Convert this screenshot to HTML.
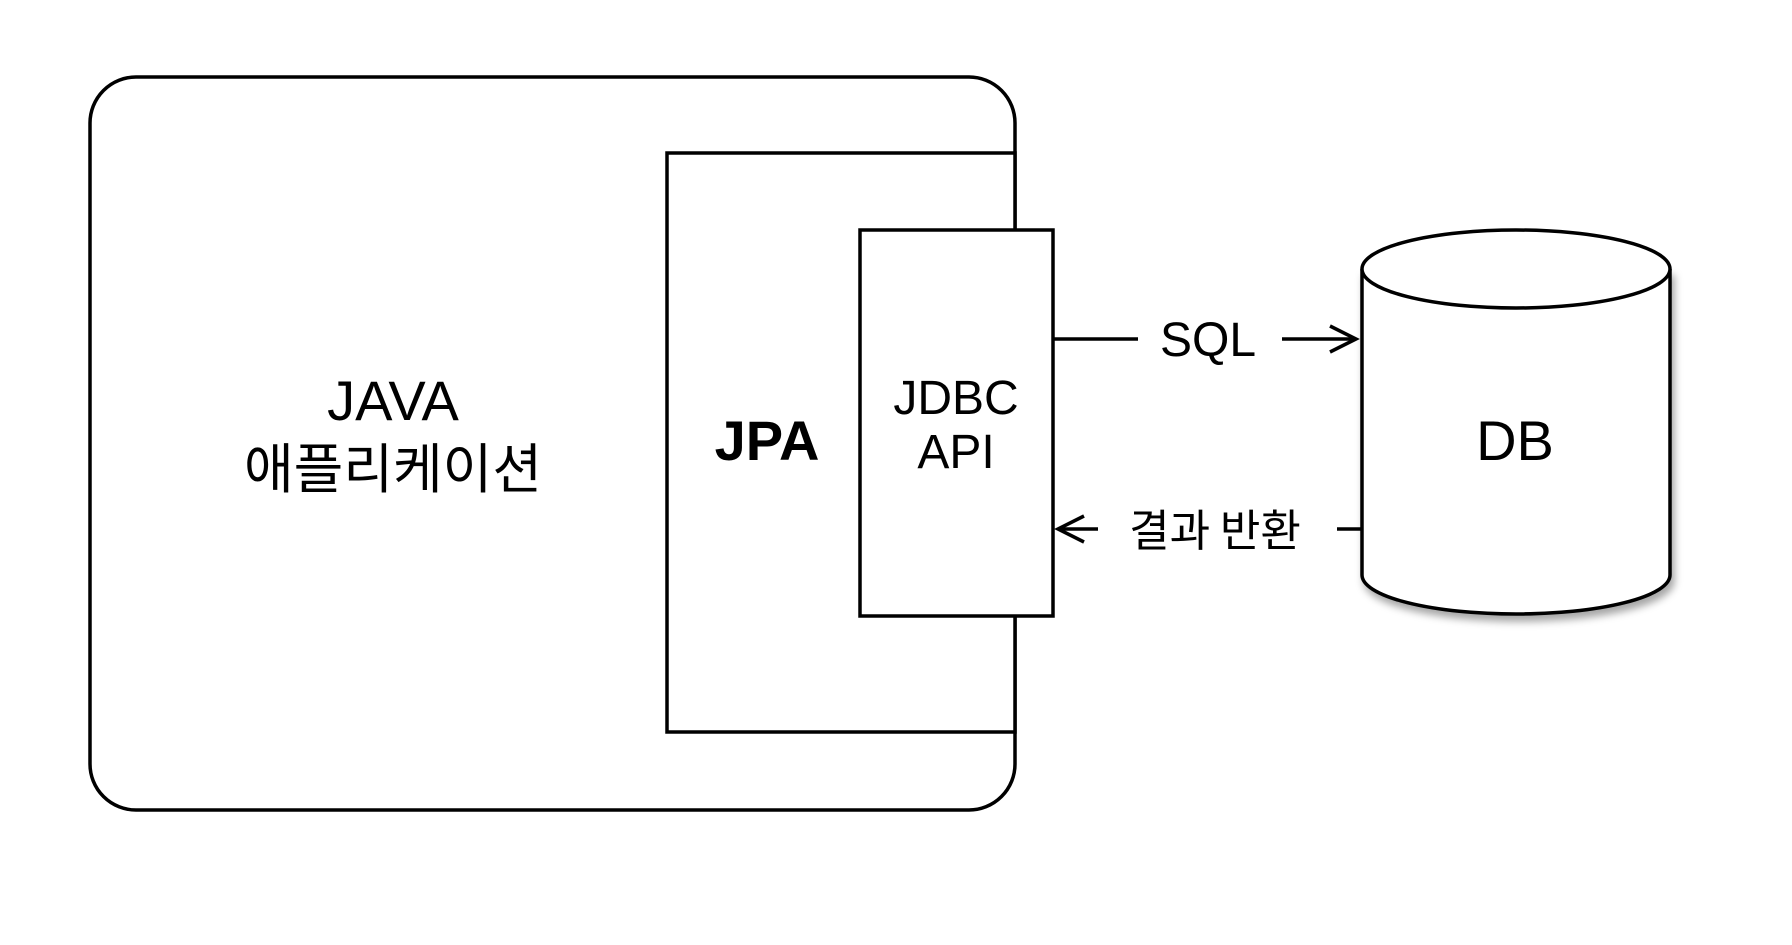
<!DOCTYPE html>
<html><head><meta charset="utf-8"><style>
html,body{margin:0;padding:0;background:#fff;}
</style></head><body>
<svg width="1792" height="940" viewBox="0 0 1792 940" xmlns="http://www.w3.org/2000/svg" font-family="Liberation Sans, Noto Sans CJK KR, sans-serif">
<defs>
<filter id="sh" x="-10%" y="-10%" width="130%" height="130%"><feDropShadow dx="3" dy="6" stdDeviation="4" flood-color="#000" flood-opacity="0.35"/></filter>
</defs>
<g fill="none" stroke="#000" stroke-width="3.5">
<rect x="90" y="77" width="925" height="733" rx="46" fill="#fff"/>
<rect x="667" y="153" width="348" height="579" fill="#fff"/>
<rect x="860" y="230" width="193" height="386" fill="#fff"/>
<path d="M1362 269 L1362 575 A154 39 0 0 0 1670 575 L1670 269" fill="#fff" filter="url(#sh)"/>
<ellipse cx="1516" cy="269" rx="154" ry="39" fill="#fff"/>
<line x1="1053" y1="339" x2="1138" y2="339"/>
<line x1="1282" y1="339" x2="1354" y2="339"/>
<polyline points="1330,326 1356,339 1330,352"/>
<line x1="1058" y1="529" x2="1098" y2="529"/>
<polyline points="1084,516 1058,529 1084,542"/>
<line x1="1337" y1="529" x2="1362" y2="529"/>
</g>
<g fill="#000" text-anchor="middle" font-size="56">
<text x="393" y="420">JAVA</text>
<text x="393" y="488" font-family="Noto Sans CJK KR, sans-serif" font-size="54">애플리케이션</text>
<text x="767" y="460" font-weight="bold" font-size="56">JPA</text>
<text x="956" y="414" font-size="48">JDBC</text>
<text x="956" y="468" font-size="48">API</text>
<text x="1515" y="460">DB</text>
<text x="1208" y="356" font-size="48">SQL</text>
<text x="1215" y="546" font-family="Noto Sans CJK KR, sans-serif" font-size="44">결과 반환</text>
</g>
</svg>
</body></html>
